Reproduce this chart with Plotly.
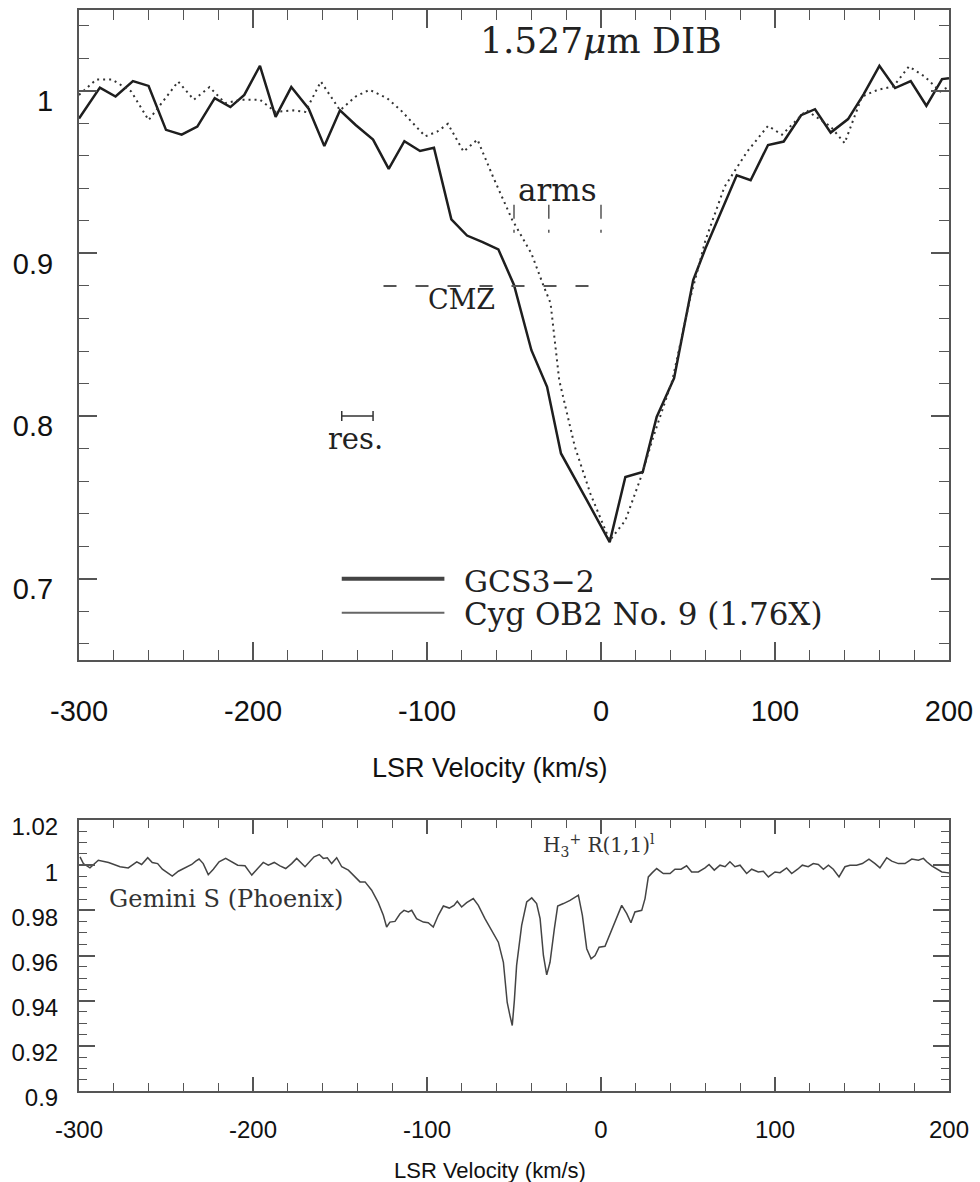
import plotly.graph_objects as go

# ---------------- data ----------------
gcs_vel = [-300, -288, -279, -269, -260, -250, -241, -232, -222, -213, -205, -196, -187, -178,
           -168, -159, -150, -141, -131, -122, -113, -104, -96, -86, -77, -68, -59, -50, -40,
           -31, -23, -15, -8, 5, 14, 24, 32, 42, 53, 60, 69, 78, 86, 96, 105, 115, 123, 132,
           142, 151, 160, 169, 178, 187, 196, 200]
gcs_flux = [0.983, 1.002, 0.9965, 1.006, 1.003, 0.976, 0.973, 0.978, 0.9955, 0.990, 0.9975,
            1.0154, 0.984, 1.0023, 0.989, 0.966, 0.988, 0.979, 0.970, 0.952, 0.969, 0.963,
            0.965, 0.921, 0.911, 0.907, 0.9025, 0.8806, 0.8405, 0.818, 0.777, 0.762, 0.748,
            0.7225, 0.7625, 0.7656, 0.7995, 0.8233, 0.8836, 0.903, 0.925, 0.948, 0.945, 0.9667,
            0.9688, 0.985, 0.9887, 0.9743, 0.9826, 0.998, 1.0154, 1.0017, 1.006, 0.9908,
            1.0072, 1.0078]

cyg_vel = [-300, -290, -281, -270, -260, -252, -243, -234, -225, -216, -207, -196, -187, -177,
           -170, -161, -150, -141, -133, -123, -115, -101, -94, -88, -79, -71, -62, -51, -40,
           -33, -29, -24, -15, -6, 5, 14, 23, 30, 41, 51, 60, 71, 84, 96, 104, 118, 132, 140,
           150, 159, 168, 177, 186, 195, 200]
cyg_flux = [0.9975, 1.007, 1.007, 0.9996, 0.982, 0.993, 1.0057, 0.9945, 1.0023, 0.9924, 0.9945,
            0.9945, 0.987, 0.988, 0.987, 1.0057, 0.988, 0.9965, 1.0006, 0.9955, 0.988, 0.972,
            0.975, 0.9797, 0.9626, 0.970, 0.947, 0.9206, 0.900, 0.880, 0.8695, 0.822, 0.781,
            0.752, 0.7235, 0.7358, 0.7625, 0.787, 0.822, 0.8713, 0.908, 0.941, 0.9626, 0.9785,
            0.973, 0.988, 0.978, 0.9678, 0.9965, 1.0006, 1.0027, 1.015, 1.0088, 0.9996, 1.0027]

h3_vel = [-299.4, -297.5, -293.7, -288.9, -283, -276.4, -271.7, -266.8, -264, -260.5, -257.9,
          -254.8, -252.1, -249.6, -246.4, -242.9, -239.1, -235.2, -232.9, -231, -228.6, -225.7,
          -222.8, -219.5, -215.7, -212.2, -208.8, -204.6, -200.7, -197.3, -194.1, -191.2,
          -187.8, -184.5, -181.2, -177.8, -174.9, -170.1, -167.2, -164.9, -161.9, -159.6,
          -157.3, -154.8, -151.9, -149, -145.2, -141.4, -138.5, -135.6, -131.8, -128, -125.1,
          -123.2, -121.3, -118.4, -115.5, -113.2, -110.7, -108.8, -106, -102.1, -99.3, -96.4,
          -93.5, -90.6, -87.2, -84.5, -82.6, -80.1, -77.2, -73.4, -70.5, -66.7, -62.8, -59,
          -56.1, -53.9, -52.3, -51, -49.8, -48.5, -45.6, -42.7, -39.8, -37, -35, -33.1, -31.2,
          -29.3, -26.8, -24.9, -21.6, -17.8, -13, -10.7, -8.2, -5.7, -3.4, -1.1, 2.3, 5.2, 8.4,
          11.9, 14.8, 17.2, 19.5, 23.4, 25.3, 27.2, 29.5, 32, 35.8, 39.7, 42.5, 46, 49.2, 52.1,
          55.9, 59.8, 62.1, 65.1, 68.4, 71.3, 74.1, 77, 79.9, 83.7, 86.6, 90.4, 93.3, 96.2, 100,
          102.9, 106.7, 109.6, 113, 115.7, 119.1, 122, 124.9, 127.8, 130.7, 133.5, 136.8,
          140.2, 143.1, 146.9, 150.2, 154, 157.5, 160.3, 164.2, 167.1, 170.9, 174.7, 178.6,
          182.4, 185.3, 187.2, 190.1, 193, 195.9, 198.7, 200]
h3_flux = [1.0037, 1.0007, 0.9988, 1.0022, 1.0012, 0.9993, 0.9988, 1.0015, 1.0003, 1.0033,
           1.0012, 1.0007, 0.9982, 0.997, 0.9952, 0.9973, 0.9988, 1.0003, 1.0018, 1.0027,
           1.0007, 0.9958, 0.9982, 1.0015, 1.003, 1.0015, 1.0, 0.9997, 0.9956, 0.9985, 1.0012,
           1.0, 1.0012, 0.9997, 0.9985, 1.0007, 1.003, 0.9993, 1.0015, 1.0037, 1.0047, 1.003,
           1.0033, 1.0007, 1.0033, 0.9993, 0.9978, 0.9948, 0.9926, 0.9926, 0.9889, 0.9834,
           0.9778, 0.9726, 0.9748, 0.9751, 0.9785, 0.98, 0.9793, 0.98, 0.9763, 0.9748, 0.9745,
           0.9726, 0.9778, 0.9819, 0.981, 0.9822, 0.984, 0.9815, 0.9834, 0.9852, 0.9822,
           0.9763, 0.9711, 0.9659, 0.957, 0.9392, 0.9333, 0.929, 0.94, 0.9556, 0.9733, 0.9837,
           0.9855, 0.983, 0.9763, 0.96, 0.9514, 0.957, 0.9719, 0.9819, 0.983, 0.9844, 0.9867,
           0.9778, 0.963, 0.9585, 0.96, 0.9637, 0.9641, 0.9696, 0.9756, 0.9822, 0.9785, 0.9745,
           0.9793, 0.98, 0.9852, 0.9948, 0.9967, 0.9985, 0.9963, 0.9963, 0.9982, 0.9982,
           0.9997, 0.997, 0.997, 0.9988, 1.0003, 0.9978, 1.0, 0.9993, 1.0015, 0.9993, 1.0,
           0.9963, 0.9982, 0.997, 0.9973, 0.9948, 0.997, 0.9967, 0.9988, 0.9963, 0.9982, 1.0,
           0.9993, 1.0007, 1.0003, 0.9982, 1.0, 0.9982, 0.9948, 0.9993, 1.0, 1.0, 1.0007,
           1.0027, 1.0007, 0.9988, 1.0033, 1.0018, 1.0007, 1.0007, 1.0027, 1.0022, 1.003,
           1.0015, 0.9997, 0.9985, 0.997, 0.9967, 0.9965]

# tick labels
x_tickvals = [-300, -200, -100, 0, 100, 200]
x_ticktext = ["-300", "-200", "-100", "0", "100", "200"]
y1_tickvals = [0.7, 0.8, 0.9, 1.0]
y1_ticktext = ["0.7", "0.8", "0.9", "1"]
y2_tickvals = [0.9, 0.92, 0.94, 0.96, 0.98, 1.0, 1.02]
y2_ticktext = ["0.9", "0.92", "0.94", "0.96", "0.98", "1", "1.02"]

# annotation markers (velocity ranges)
arms_vel = [-50, -30, 0]
arms_span = [0.91, 0.93]
cmz_span = [-125, 0]
cmz_level = 0.88
res_center = -140
res_half = 9
res_level = 0.80
legend_span = [-149, -90]
legend_levels = [0.70, 0.679]

# ---------------- figure ----------------
W, H = 980, 1182
FRAME = "#555555"
SANS = "Liberation Sans, Arial, sans-serif"
SERIF = "DejaVu Serif, serif"

fig = go.Figure()

fig.add_trace(go.Scatter(x=gcs_vel, y=gcs_flux, mode="lines",
                         line=dict(color="#1e1e1e", width=2.5), xaxis="x", yaxis="y",
                         showlegend=False))
fig.add_trace(go.Scatter(x=cyg_vel, y=cyg_flux, mode="lines",
                         line=dict(color="#333333", width=2, dash="2px,4px"),
                         xaxis="x", yaxis="y", showlegend=False))
fig.add_trace(go.Scatter(x=[res_center], y=[res_level], mode="markers",
                         marker=dict(size=1, color="rgba(0,0,0,0)"),
                         error_x=dict(type="constant", value=res_half, width=5,
                                      thickness=1.5, color="#333333"),
                         xaxis="x", yaxis="y", showlegend=False))
fig.add_trace(go.Scatter(x=h3_vel, y=h3_flux, mode="lines",
                         line=dict(color="#444444", width=1.5), xaxis="x2", yaxis="y2",
                         showlegend=False))

# shapes: arms ticks, CMZ line, legend samples
shapes = []
for v in arms_vel:
    shapes.append(dict(type="line", xref="x", yref="y", x0=v, x1=v,
                       y0=arms_span[1], y1=arms_span[0],
                       line=dict(color="#555555", width=1.5, dash="14px,11px,3px,10px")))
shapes.append(dict(type="line", xref="x", yref="y", x0=cmz_span[0], x1=cmz_span[1],
                   y0=cmz_level, y1=cmz_level,
                   line=dict(color="#555555", width=2, dash="13px,19px")))
shapes.append(dict(type="line", xref="x", yref="y", x0=legend_span[0], x1=legend_span[1],
                   y0=legend_levels[0], y1=legend_levels[0],
                   line=dict(color="#444444", width=4)))
shapes.append(dict(type="line", xref="x", yref="y", x0=legend_span[0], x1=legend_span[1],
                   y0=legend_levels[1], y1=legend_levels[1],
                   line=dict(color="#666666", width=2)))

ann = []
def A(text, x, y, size, family=SERIF, xref="x", yref="y", xanchor="center", color="#222222"):
    ann.append(dict(text=text, x=x, y=y, xref=xref, yref=yref, showarrow=False,
                    xanchor=xanchor, yanchor="middle",
                    font=dict(family=family, size=size, color=color)))

A("1.527<i>μ</i>m DIB", 0, 1.031, 36)
A("arms", -25, 0.939, 31)
A("CMZ", -80, 0.8715, 27)
A("res.", -141, 0.786, 29)
A("GCS3−2", -80, 0.6985, 30, xanchor="left")
A("Cyg OB2 No. 9 (1.76X)", -80, 0.678, 31, xanchor="left")
A("Gemini S (Phoenix)", -284, 0.9849, 24, xref="x2", yref="y2", xanchor="left", color="#333333")
A("H<sub>3</sub><sup>+</sup> R(1,1)<sup>l</sup>", -34.5, 1.0089, 20, xref="x2", yref="y2",
  xanchor="left", color="#333333")
A("LSR Velocity (km/s)", 0.5, 1 - 768 / H, 27, family=SANS, xref="paper", yref="paper",
  color="#111111")
A("LSR Velocity (km/s)", 0.5, 1 - 1170 / H, 22, family=SANS, xref="paper", yref="paper",
  color="#111111")

xdom = [79 / W, 949 / W]
y1dom = [1 - 660 / H, 1 - 9.5 / H]
y2dom = [1 - 1091 / H, 1 - 820 / H]

def xax(anchor, size, standoff, ticklen, minorlen):
    return dict(domain=xdom, anchor=anchor, range=[-300, 200], showgrid=False, zeroline=False,
                showline=True, mirror="allticks", linecolor=FRAME, linewidth=2,
                ticks="inside", ticklen=ticklen, tickwidth=1.5, tickcolor=FRAME,
                tickmode="array", tickvals=x_tickvals, ticktext=x_ticktext,
                minor=dict(dtick=20, tick0=0, ticks="inside", ticklen=minorlen,
                           tickwidth=1.2, tickcolor=FRAME),
                tickfont=dict(family=SANS, size=size, color="#111111"),
                ticklabelstandoff=standoff, automargin=False, fixedrange=True)

def yax(anchor, dom, rng, tv, tt, mdt, size, standoff, shift, ticklen, minorlen):
    return dict(domain=dom, anchor=anchor, range=rng, showgrid=False, zeroline=False,
                showline=True, mirror="allticks", linecolor=FRAME, linewidth=2,
                ticks="inside", ticklen=ticklen, tickwidth=1.5, tickcolor=FRAME,
                tickmode="array", tickvals=tv, ticktext=tt,
                minor=dict(dtick=mdt, tick0=0, ticks="inside", ticklen=minorlen,
                           tickwidth=1.2, tickcolor=FRAME),
                tickfont=dict(family=SANS, size=size, color="#111111"),
                ticklabelstandoff=standoff, ticklabelshift=shift,
                automargin=False, fixedrange=True)

fig.update_layout(
    width=W, height=H, template="none",
    paper_bgcolor="white", plot_bgcolor="white",
    margin=dict(l=0, r=0, t=0, b=0),
    showlegend=False,
    xaxis=xax("y", 29, 24, 18, 10),
    yaxis=yax("x", y1dom, [0.65, 1.05], y1_tickvals, y1_ticktext, 0.02, 29, 18, 10, 18, 10),
    xaxis2=xax("y2", 24, 16, 14, 8),
    yaxis2=yax("x2", y2dom, [0.9, 1.02], y2_tickvals, y2_ticktext, 0.005, 24, 14, 7, 16, 8),
    shapes=shapes,
    annotations=ann,
)

fig.write_html("out.html",
               config={"displayModeBar": False},
               post_script="document.body.style.margin='0px';"
                           "document.body.style.overflow='hidden';")
